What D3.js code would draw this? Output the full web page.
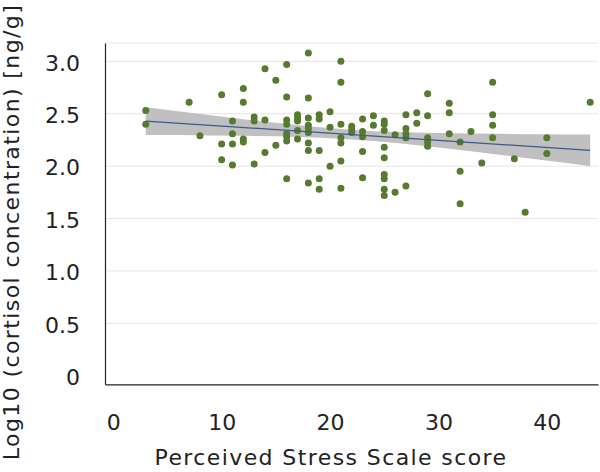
<!DOCTYPE html>
<html>
<head>
<meta charset="utf-8">
<script src="https://cdn.jsdelivr.net/npm/d3@7/dist/d3.min.js"></script>
<style>
  html, body { margin: 0; padding: 0; background: #fff; }
  svg { display: block; }
  text { font-family: "DejaVu Sans", Verdana, sans-serif; fill: #222; }
</style>
</head>
<body>
<svg id="chart" width="600" height="472"></svg>
<script>
// ---- Data ----
const pssScore = [
  3, 3, 7, 8,
  10, 10, 10,
  11, 11, 11, 11,
  12, 12, 12, 12,
  13, 13, 13,
  14, 14, 14,
  15, 15,
  16, 16, 16, 16, 16, 16, 16, 16,
  17, 17, 17, 17, 17,
  18, 18, 18, 18, 18, 18, 18, 18, 18,
  19, 19, 19, 19, 19,
  20, 20, 20,
  21, 21, 21, 21, 21, 21, 21,
  22, 22, 22,
  23, 23, 23, 23, 23,
  24, 24,
  25, 25, 25, 25, 25, 25, 25, 25, 25,
  26, 26,
  27, 27, 27, 27, 27,
  28, 28,
  29, 29, 29, 29, 29,
  31, 31, 31,
  32, 32, 32,
  33, 34,
  35, 35, 35, 35,
  37, 38,
  40, 40,
  44
];
const logCortisol = [
  2.53, 2.40, 2.61, 2.29,
  2.68, 2.21, 2.06,
  2.43, 2.31, 2.21, 2.01,
  2.74, 2.61, 2.26, 2.23,
  2.47, 2.43, 2.02,
  2.93, 2.44, 2.13,
  2.82, 2.20,
  2.97, 2.66, 2.44, 2.40, 2.31, 2.28, 2.24, 1.88,
  2.49, 2.46, 2.43, 2.34, 2.26,
  3.08, 2.65, 2.46, 2.39, 2.36, 2.32, 2.22, 2.15, 1.84,
  2.49, 2.45, 2.15, 1.88, 1.78,
  2.52, 2.37, 2.00,
  3.00, 2.80, 2.40, 2.27, 2.22, 2.05, 1.79,
  2.38, 2.35, 2.32,
  2.45, 2.33, 2.28, 2.14, 1.89,
  2.48, 2.39,
  2.43, 2.40, 2.34, 2.18, 2.08, 1.92, 1.88, 1.78, 1.72,
  2.30, 1.75,
  2.49, 2.36, 2.31, 2.27, 1.81,
  2.51, 2.41,
  2.69, 2.48, 2.27, 2.23, 2.19,
  2.60, 2.51, 2.31,
  2.23, 1.95, 1.64,
  2.33, 2.03,
  2.80, 2.49, 2.39, 2.27,
  2.07, 1.56,
  2.27, 2.12,
  2.61
];

// regression line end points and confidence band
const fitX     = [3, 44];
const fitY     = [2.430, 2.151];
const bandX     = [3, 6, 9, 12, 15, 18, 21, 24, 27, 30, 33, 36, 39, 42, 44];
const bandLower = [2.298, 2.296, 2.293, 2.290, 2.285, 2.276, 2.262, 2.240, 2.211, 2.177, 2.141, 2.104, 2.065, 2.027, 2.000];
const bandUpper = [2.562, 2.524, 2.485, 2.448, 2.413, 2.380, 2.354, 2.334, 2.323, 2.315, 2.311, 2.308, 2.305, 2.303, 2.302];

const xTicks = [0, 10, 20, 30, 40];
const yTicks = [0, 0.5, 1.0, 1.5, 2.0, 2.5, 3.0];
const xTitle = "Perceived Stress Scale score";
const yTitle = "Log10 (cortisol concentration) [ng/g]";

// ---- Chart ----
const svg = d3.select("#chart");
const x = d3.scaleLinear().domain([-0.76, 44.72]).range([105, 598]);
const y = d3.scaleLinear().domain([-0.082, 3.175]).range([384.3, 43]);

// gridlines
svg.append("g")
  .selectAll("line")
  .data(yTicks.filter(d => d > 0))
  .join("line")
  .attr("x1", x.range()[0]).attr("x2", x.range()[1])
  .attr("y1", d => y(d)).attr("y2", d => y(d))
  .attr("stroke", "#e6e6e6").attr("stroke-width", 1);
svg.append("line")
  .attr("x1", x.range()[0]).attr("x2", x.range()[1])
  .attr("y1", y.range()[1]).attr("y2", y.range()[1])
  .attr("stroke", "#e6e6e6").attr("stroke-width", 1);

// confidence band
const bandData = bandX.map((v, i) => ({ x: v, lo: bandLower[i], hi: bandUpper[i] }));
svg.append("path")
  .datum(bandData)
  .attr("fill", "#c0c0c2")
  .attr("d", d3.area().x(d => x(d.x)).y0(d => y(d.lo)).y1(d => y(d.hi)));

// points
const pts = pssScore.map((v, i) => ({ x: v, y: logCortisol[i] }));
svg.append("g")
  .selectAll("circle")
  .data(pts)
  .join("circle")
  .attr("cx", d => x(d.x)).attr("cy", d => y(d.y))
  .attr("r", 3.5)
  .attr("fill", "#567a30");

// regression line
svg.append("path")
  .datum(fitX.map((v, i) => ({ x: v, y: fitY[i] })))
  .attr("fill", "none")
  .attr("stroke", "#3d5b82")
  .attr("stroke-width", 1.3)
  .attr("d", d3.line().x(d => x(d.x)).y(d => y(d.y)));

// axes
const xAxis = svg.append("g")
  .attr("transform", `translate(0,${y.range()[0]})`)
  .call(d3.axisBottom(x).tickValues(xTicks).tickSize(0).tickSizeOuter(0).tickPadding(30));
const yAxis = svg.append("g")
  .attr("transform", `translate(${x.range()[0]},0)`)
  .call(d3.axisLeft(y).tickValues(yTicks).tickSize(0).tickSizeOuter(0).tickPadding(25)
    .tickFormat(d => d === 0 ? "0" : d3.format(".1f")(d)));
[xAxis, yAxis].forEach(g => {
  g.select(".domain").attr("stroke", "#222").attr("stroke-width", 1.2);
  g.selectAll("text")
    .style("font-family", '"DejaVu Sans", Verdana, sans-serif')
    .style("font-size", "22px")
    .attr("fill", "#222");
});
yAxis.selectAll("text").attr("dy", "0.40em");

// titles
svg.append("text")
  .attr("x", 331).attr("y", 465)
  .attr("text-anchor", "middle")
  .style("font-size", "22px")
  .style("letter-spacing", "1.4px")
  .text(xTitle);
svg.append("text")
  .attr("transform", "translate(19,232) rotate(-90)")
  .attr("text-anchor", "middle")
  .style("font-size", "22px")
  .style("letter-spacing", "1.4px")
  .text(yTitle);
</script>
</body>
</html>
